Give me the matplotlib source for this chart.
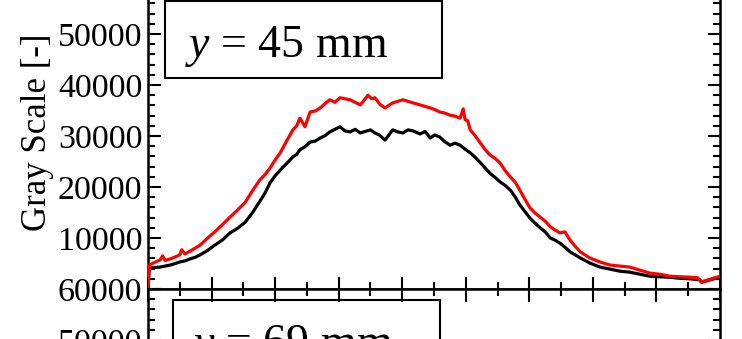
import matplotlib
matplotlib.use("Agg")
import matplotlib.pyplot as plt
from matplotlib.patches import Rectangle
from matplotlib.ticker import MultipleLocator, NullFormatter, FuncFormatter

plt.rcParams['font.family'] = ['Liberation Serif', 'DejaVu Serif']
plt.rcParams['mathtext.fontset'] = 'custom'
plt.rcParams['mathtext.rm'] = 'Liberation Serif'
plt.rcParams['mathtext.it'] = 'Liberation Serif:italic'

# ---- data (top panel, y = 45 mm) ----
x_black = [0.0, 0.2, 1.0, 1.9, 2.7, 3.5, 4.3, 5.0, 5.8, 6.6, 7.4, 8.2, 9.3, 10.5, 11.7, 12.9,
           14.1, 15.3, 16.4, 17.6, 18.4, 19.2, 20.0, 20.8, 21.8, 22.8, 23.4, 23.9, 24.7,
           25.5, 26.3, 27.1, 27.9, 28.6, 29.4, 30.2, 31.0, 31.8, 32.6, 33.4, 34.2, 35.0,
           35.7, 36.4, 37.3, 38.5, 39.3, 40.1, 40.9, 41.7, 42.8, 43.6, 44.4, 45.1, 45.9,
           46.7, 47.5, 48.3, 49.1, 49.9, 50.7, 51.5, 52.2, 53.0, 53.8, 54.6, 55.4, 56.2,
           57.0, 57.8, 58.5, 59.3, 60.1, 60.9, 61.7, 62.5, 63.3, 64.0, 64.8, 65.6, 66.4,
           67.2, 68.0, 69.5, 71.1, 72.7, 74.2, 75.8, 77.4, 79.0, 80.5, 82.1, 83.7, 85.3,
           86.8, 87.1, 88.4, 90.0]
black = [0, 4100, 4200, 4300, 4500, 4700, 5000, 5300, 5500, 5900, 6200, 6700, 7500, 8600, 9600, 11000,
         11900, 13100, 14900, 17200, 18800, 20800, 22200, 23300, 24600, 25900, 26400, 27300, 27900,
         28800, 29000, 29600, 30100, 30800, 31300, 31800, 31000, 30800, 31300, 30600, 30900, 31200,
         30600, 30200, 29200, 31200, 30800, 30600, 31200, 31000, 30400, 30900, 29600, 30200, 29800,
         28900, 28200, 28600, 28200, 27400, 26700, 25800, 24900, 23800, 22700, 21900, 21000, 20300,
         19400, 18000, 16500, 15200, 13900, 12900, 12000, 11200, 10000, 9600, 9000, 8200, 7300,
         6700, 6100, 5100, 4300, 3900, 3500, 3300, 2900, 2500, 2400, 2300, 2100, 2000,
         1800, 1300, 1800, 2300]

x_red = [0.0, 0.2, 1.0, 1.9, 2.3, 2.7, 3.5, 4.3, 5.0, 5.3, 5.8, 6.6, 7.4, 8.2, 9.3, 10.5, 11.7,
         12.9, 14.1, 15.3, 16.4, 17.6, 18.4, 19.2, 20.0, 20.8, 21.8, 22.8, 23.4, 23.9, 24.7,
         25.5, 26.3, 27.1, 27.9, 28.6, 29.4, 30.2, 31.0, 31.8, 32.6, 33.4, 34.0, 34.6, 35.2,
         35.7, 36.5, 37.3, 38.5, 39.3, 40.1, 40.9, 41.7, 42.8, 43.6, 44.4, 45.1, 45.9, 46.7,
         47.5, 48.3, 49.1, 49.6, 49.9, 50.3, 50.7, 51.5, 52.2, 53.0, 53.8, 54.6, 55.4, 56.2,
         57.0, 57.8, 58.5, 59.3, 60.1, 60.9, 61.7, 62.5, 63.3, 64.0, 64.8, 65.6, 66.4, 67.2,
         68.0, 69.5, 71.1, 72.7, 74.2, 75.8, 77.4, 79.0, 80.5, 82.1, 83.7, 85.3, 86.5, 87.1,
         88.4, 90.0]
red = [0, 4700, 5200, 5700, 6500, 5600, 5900, 6300, 6700, 7700, 6900, 7400, 8000, 8600, 9900, 11200, 12600,
       14100, 15500, 17000, 19200, 21400, 22400, 23700, 25300, 26700, 29000, 31200, 32000, 33500, 31800,
       34700, 34900, 35500, 36400, 37100, 36600, 37500, 37300, 37100, 36600, 36100, 37000, 38000, 37300,
       37500, 36200, 35500, 36500, 36800, 37100, 36800, 36500, 36100, 35800, 35500, 35200, 34700, 34500,
       34100, 33900, 33500, 35300, 33200, 33000, 31200, 30000, 28800, 27400, 26300, 25600, 24700, 23200,
       22000, 20900, 19400, 17600, 15900, 14900, 14100, 13300, 12200, 11600, 11000, 11200, 9600, 8400,
       7300, 6100, 5300, 4700, 4500, 4300, 3700, 3100, 2900, 2500, 2400, 2300, 2200, 1400,
       1900, 2500]

labels_panel = ["45", "69"]
ylabel = "Gray Scale [-]"

W, H = 742, 339
fig = plt.figure(figsize=(W / 100, H / 100), dpi=100)

def fx(px):
    return px / W

def fy(py):
    return (H - py) / H

left_px, right_px = 148, 720
panel_h = 306
top_bottom_px = 289

ax1 = fig.add_axes([fx(left_px), fy(top_bottom_px), (right_px - left_px) / W, panel_h / H])
ax2 = fig.add_axes([fx(left_px), fy(top_bottom_px + panel_h), (right_px - left_px) / W, panel_h / H])

for ax in (ax1, ax2):
    ax.set_xlim(0, 90)
    ax.set_ylim(0, 60000)
    ax.xaxis.set_major_locator(MultipleLocator(10))
    ax.xaxis.set_minor_locator(MultipleLocator(5))
    ax.yaxis.set_major_locator(MultipleLocator(10000))
    ax.yaxis.set_minor_locator(MultipleLocator(2000))
    ax.tick_params(axis='both', which='major', direction='in', length=9, width=1.5,
                   top=True, right=True, labelsize=24.5, pad=4)
    ax.tick_params(axis='both', which='minor', direction='in', length=5, width=1.5,
                   top=True, right=True)
    ax.xaxis.set_major_formatter(NullFormatter())
    for s in ax.spines.values():
        s.set_linewidth(1.8)

ax1.yaxis.set_major_formatter(FuncFormatter(lambda v, p: "" if v == 0 else f"{int(v)}"))
ax2.yaxis.set_major_formatter(FuncFormatter(lambda v, p: f"{int(v)}"))

ax1.plot(x_black, black, color='black', lw=2.3, zorder=3)
ax1.plot(x_red, red, color='red', lw=2.3, zorder=4)

# boxes with panel labels
def add_box(ax, l_px, r_px, t_px, b_px, ax_top_px, text, tx_px, base_px):
    w = r_px - l_px
    axw = right_px - left_px
    x0 = (l_px - left_px) / axw
    y0 = (ax_top_px + panel_h - b_px) / panel_h
    h = (b_px - t_px) / panel_h
    ax.add_patch(Rectangle((x0, y0), w / axw, h, transform=ax.transAxes, fill=False,
                           edgecolor='black', lw=1.5, clip_on=False, zorder=5))
    ax.text((tx_px - left_px) / axw, (ax_top_px + panel_h - base_px) / panel_h, text,
            transform=ax.transAxes, ha='center', va='baseline', fontsize=33, zorder=6)

add_box(ax1, 165, 442, 0.8, 78, top_bottom_px - panel_h, "$y$ = " + labels_panel[0] + " mm", 287, 57)
add_box(ax2, 173, 440, 300, 378, top_bottom_px, "$y$ = " + labels_panel[1] + " mm", 292, 356)

fig.text(fx(38), fy(132), ylabel, rotation=90, ha='center', va='center', fontsize=25)

fig.savefig("out.png", dpi=100)
